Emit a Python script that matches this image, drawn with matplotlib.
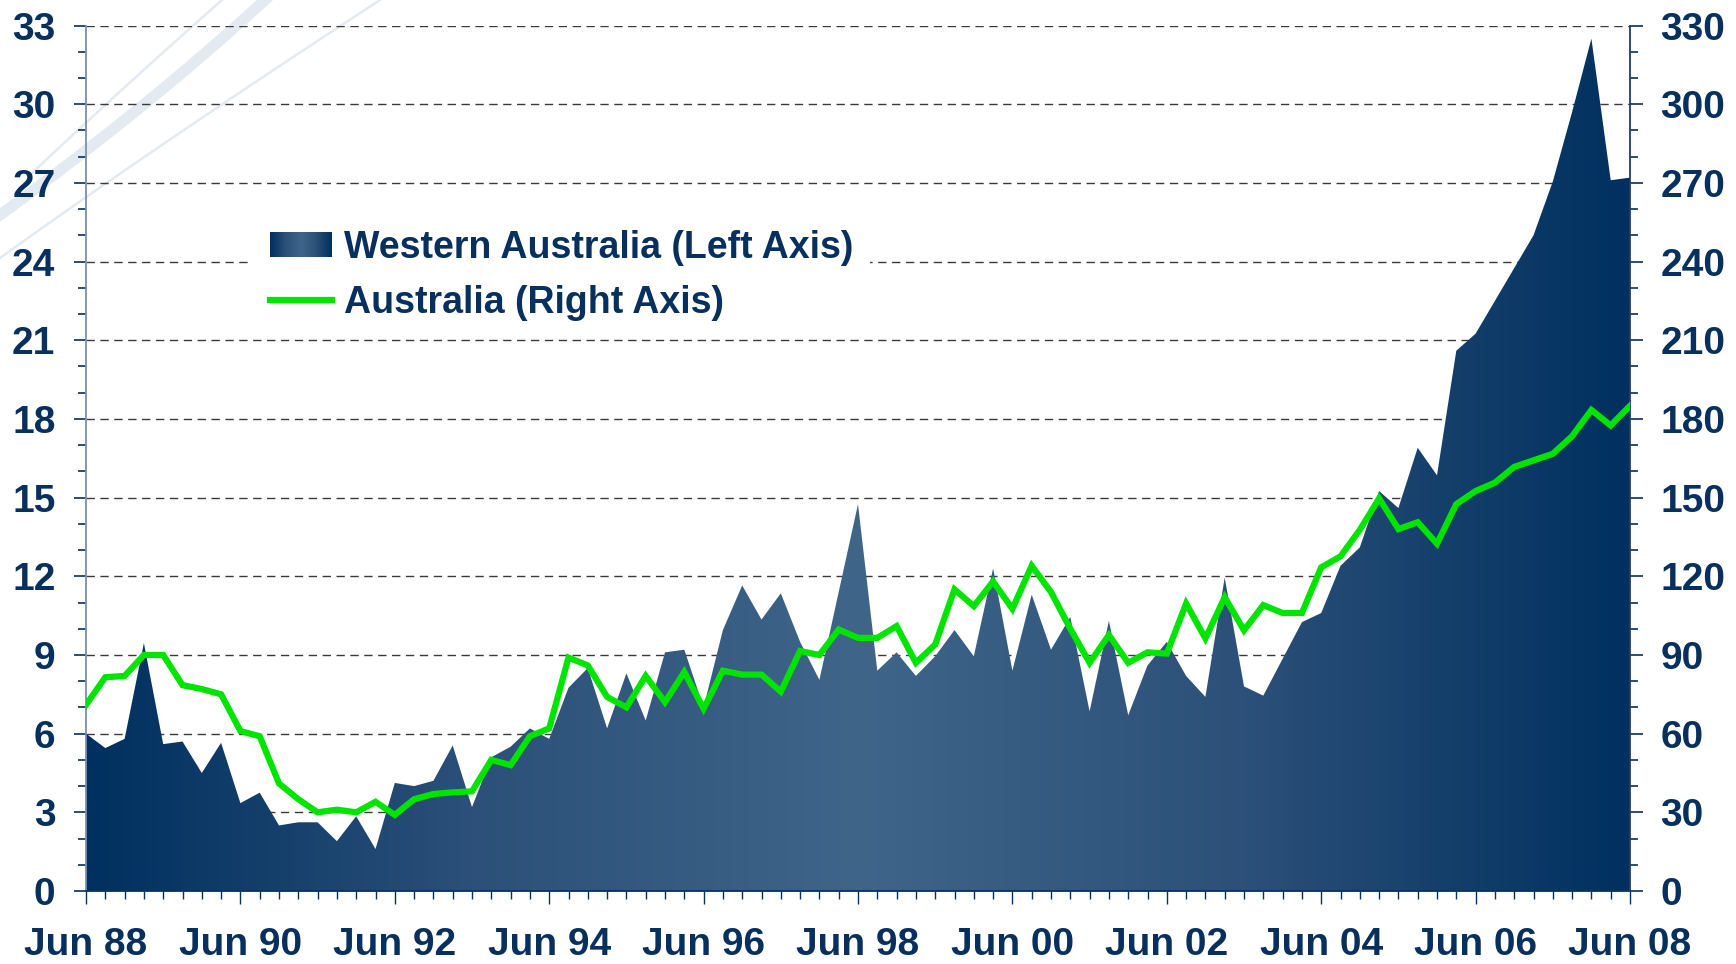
import matplotlib
matplotlib.use("Agg")
import matplotlib.pyplot as plt
import numpy as np
from matplotlib.colors import LinearSegmentedColormap
from matplotlib.legend_handler import HandlerBase
from matplotlib.image import BboxImage
from matplotlib.transforms import Bbox, TransformedBbox
from matplotlib.patches import Patch
from matplotlib.lines import Line2D

# quarterly, Jun 88 .. Jun 08
wa = [6.0, 5.45, 5.8, 9.45, 5.6, 5.7, 4.5, 5.65, 3.35, 3.75,
      2.5, 2.62, 2.62, 1.9, 2.85, 1.6, 4.12, 4.0, 4.2, 5.55,
      3.2, 5.1, 5.5, 6.2, 5.8, 7.75, 8.5, 6.2, 8.3, 6.5,
      9.1, 9.2, 7.0, 9.95, 11.65, 10.35, 11.35, 9.5, 8.05, 11.4,
      14.75, 8.4, 9.1, 8.2, 8.95, 9.95, 8.95, 12.3, 8.4, 11.3,
      9.2, 10.45, 6.85, 10.3, 6.7, 8.6, 9.5, 8.2, 7.4, 11.95,
      7.8, 7.45, 8.85, 10.25, 10.6, 12.4, 13.1, 15.25, 14.6, 16.9,
      15.85, 20.6, 21.25, 22.5, 23.75, 25.0, 27.05, 29.7, 32.5, 27.1,
      27.2]
aus = [71, 81.5, 82, 90, 90, 78.5, 77, 75, 61, 59,
       41, 35, 30, 31, 30, 34, 29, 35, 37, 37.6,
       38, 50, 48, 59, 62, 89, 86, 74, 70, 82,
       72, 83.5, 69.5, 84, 82.5, 82.5, 76, 91.5, 90, 99.7,
       96.5, 96.5, 101, 87, 94, 115, 108.6, 118, 107.6, 124,
       114, 100, 87, 97.6, 87, 91, 90.5, 109.6, 96.3, 112,
       99.4, 109, 106, 106, 123.4, 127.6, 137.7, 149.7, 138, 140.6,
       132.4, 147.5, 152.5, 155.7, 161.7, 164.2, 166.7, 173.4, 183.4, 177.5,
       185]
tick_labels = ["Jun 88", "Jun 90", "Jun 92", "Jun 94", "Jun 96", "Jun 98",
               "Jun 00", "Jun 02", "Jun 04", "Jun 06", "Jun 08"]

navy = "#07305e"
green = "#00e400"
cmap = LinearSegmentedColormap.from_list("wa", ["#00305f", "#2c5079", "#3f6589", "#2c5079", "#00305f"])

plt.rcParams["font.family"] = ["Liberation Sans", "DejaVu Sans"]
plt.rcParams["font.weight"] = "bold"

x = np.arange(len(wa))

fig = plt.figure(figsize=(17.36, 9.64), dpi=100)
ax = fig.add_axes([86 / 1736, 73 / 964, 1544 / 1736, 865.5 / 964])
ax.patch.set_alpha(0)

# faint background swooshes (top-left decoration)
sw = "#e3eaf1"
for pts, lw in [([(30, 175), (120, 90), (222, 0)], 1.8),
                ([(0, 215), (147, 108), (265, 0)], 8),
                ([(0, 258), (150, 150), (380, 0)], 1.8)]:
    p = np.array(pts, float)
    t = np.linspace(0, 1, 50)[:, None]
    c = (1 - t) ** 2 * p[0] + 2 * t * (1 - t) * p[1] + t ** 2 * p[2]
    fig.add_artist(Line2D(c[:, 0] / 1736, 1 - c[:, 1] / 964, color=sw, lw=lw,
                          transform=fig.transFigure, zorder=-1))

# gradient area
poly = ax.fill_between(x, wa, 0, facecolor="none", edgecolor="none")
im = ax.imshow(np.linspace(0, 1, 512)[None, :], cmap=cmap, aspect="auto",
               extent=[x[0], x[-1], 0, 33], origin="lower", zorder=1)
im.set_clip_path(poly.get_paths()[0], transform=ax.transData)

ax.set_xlim(0, 80)
ax.set_ylim(0, 33)
ax.set_yticks(np.arange(0, 34, 3))
ax.set_yticks(np.arange(0, 34, 1), minor=True)
ax.set_xticks(np.arange(0, 81, 8))
ax.set_xticks(np.arange(0, 81, 1), minor=True)
ax.set_xticklabels(tick_labels)
ax.set_axisbelow(True)
ax.grid(axis="y", color="#3a3a3a", lw=1.0, linestyle=(0, (6, 4)))

ax2 = ax.twinx()
ax2.plot(x, aus, color=green, lw=4.5, zorder=3, solid_joinstyle="miter")
ax2.set_ylim(0, 330)
ax2.set_yticks(np.arange(0, 331, 30))
ax2.set_yticks(np.arange(0, 331, 10), minor=True)

for a in (ax, ax2):
    a.spines["top"].set_visible(False)
ax2.spines["left"].set_visible(False)
ax2.spines["bottom"].set_visible(False)
ax.spines["right"].set_visible(False)
ax.spines["left"].set_color("#7a90ab")
ax.spines["left"].set_linewidth(1.3)
ax2.spines["right"].set_color("#1f3d6a")
ax2.spines["right"].set_linewidth(1.3)
ax.spines["bottom"].set_color(navy)
ax.spines["bottom"].set_linewidth(1.3)

fs = 28
ax.tick_params(axis="y", which="major", length=9, width=1.2, color=navy,
               labelsize=fs, labelcolor=navy, pad=13)
ax.tick_params(axis="y", which="minor", length=6, width=1.2, color=navy)
ax.tick_params(axis="x", which="major", length=9, width=1.0, color=navy,
               labelsize=fs, labelcolor=navy, pad=17)
ax.tick_params(axis="x", which="minor", length=6, width=1.0, color=navy)
ax2.tick_params(axis="y", which="major", length=9, width=1.2, color=navy,
                labelsize=fs, labelcolor=navy, pad=13)
ax2.tick_params(axis="y", which="minor", length=6, width=1.2, color=navy)


class HandlerGradient(HandlerBase):
    def create_artists(self, legend, orig_handle, xdescent, ydescent,
                       width, height, fontsize, trans):
        bb = TransformedBbox(Bbox.from_bounds(-xdescent, -ydescent, width, height), trans)
        img = BboxImage(bb, cmap=cmap, interpolation="bicubic")
        img.set_data(np.linspace(0, 1, 64)[None, :])
        return [img]


h_wa = Patch(facecolor=navy)
h_aus = Line2D([], [], color=green, lw=4.5)
leg = ax2.legend([h_wa, h_aus], ["Western Australia (Left Axis)", "Australia (Right Axis)"],
                 handler_map={Patch: HandlerGradient()},
                 loc="upper left", bbox_to_anchor=(0.096, 0.805),
                 frameon=True, facecolor="white", edgecolor="none", framealpha=1,
                 fancybox=False, borderpad=0.45, handlelength=1.65, handleheight=0.63,
                 handletextpad=0.33, labelspacing=0.5,
                 prop={"size": 27, "weight": "bold"})
for t in leg.get_texts():
    t.set_color(navy)

fig.savefig("out.png", dpi=100, facecolor="white")
